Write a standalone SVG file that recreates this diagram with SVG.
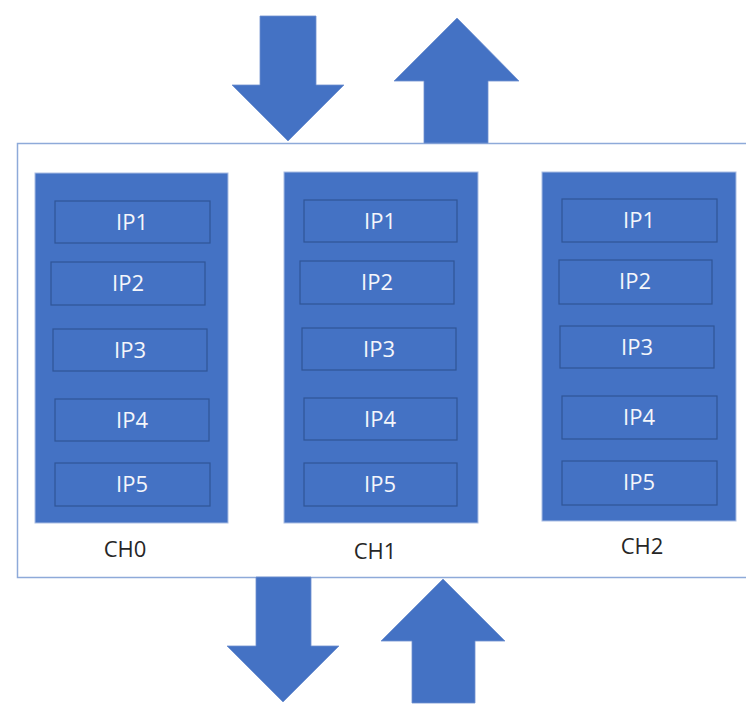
<svg xmlns="http://www.w3.org/2000/svg" width="746" height="722" viewBox="0 0 746 722">
<style>
.ch{fill:#4472c4;stroke:#a9bde3;stroke-width:1}
.ip{fill:#4472c4;stroke:#2f5597;stroke-width:1.2}
.ipt{font-family:"Open Sans","Liberation Sans",sans-serif;font-size:22px;fill:#f4f6fb;text-anchor:middle}
.cht{font-family:"Open Sans","Liberation Sans",sans-serif;font-size:22px;fill:#262626;text-anchor:middle}
.arr{fill:#4472c4;stroke:#6f90cf;stroke-width:0.8}
</style>
<rect width="746" height="722" fill="#ffffff"/>
<g id="frame">
<path d="M 760 143.5 L 17.5 143.5 L 17.5 577.5 L 760 577.5" fill="none" stroke="#8eaad9" stroke-width="1.5"/>
</g>
<g id="CH0">
<rect class="ch" x="35" y="173" width="193" height="350"/>
<rect class="ip" x="55" y="201" width="155" height="42"/><text class="ipt" x="132" y="230">IP1</text>
<rect class="ip" x="51" y="262" width="154" height="43"/><text class="ipt" x="128" y="291">IP2</text>
<rect class="ip" x="53" y="329" width="154" height="42"/><text class="ipt" x="130" y="358">IP3</text>
<rect class="ip" x="55" y="399" width="154" height="42"/><text class="ipt" x="132" y="428">IP4</text>
<rect class="ip" x="55" y="463" width="155" height="43"/><text class="ipt" x="132" y="492">IP5</text>
<text class="cht" x="125" y="557">CH0</text>
</g>
<g id="CH1">
<rect class="ch" x="284" y="172" width="194" height="351"/>
<rect class="ip" x="304" y="200" width="153" height="42"/><text class="ipt" x="380" y="229">IP1</text>
<rect class="ip" x="300" y="261" width="154" height="43"/><text class="ipt" x="377" y="290">IP2</text>
<rect class="ip" x="302" y="328" width="154" height="42"/><text class="ipt" x="379" y="357">IP3</text>
<rect class="ip" x="304" y="398" width="153" height="42"/><text class="ipt" x="380" y="427">IP4</text>
<rect class="ip" x="304" y="463" width="153" height="43"/><text class="ipt" x="380" y="492">IP5</text>
<text class="cht" x="375" y="559">CH1</text>
</g>
<g id="CH2">
<rect class="ch" x="542" y="172" width="194" height="349"/>
<rect class="ip" x="562" y="199" width="155" height="43"/><text class="ipt" x="639" y="228">IP1</text>
<rect class="ip" x="559" y="260" width="153" height="44"/><text class="ipt" x="635" y="289">IP2</text>
<rect class="ip" x="560" y="326" width="154" height="42"/><text class="ipt" x="637" y="355">IP3</text>
<rect class="ip" x="562" y="396" width="155" height="43"/><text class="ipt" x="639" y="425">IP4</text>
<rect class="ip" x="562" y="461" width="155" height="44"/><text class="ipt" x="639" y="490">IP5</text>
<text class="cht" x="642" y="554">CH2</text>
</g>
<g id="connectors">
<polygon class="arr" points="260,16 316,16 316,85 344,85 288,141 232,85 260,85"/>
<polygon class="arr" points="457,18 519,81 488,81 488,143 424,143 424,81 394,81"/>
<polygon class="arr" points="256,577 311,577 311,646 339,646 283,702 227,646 256,646"/>
<polygon class="arr" points="443,579 505,641 475,641 475,703 412,703 412,641 381,641"/>
</g>
</svg>
